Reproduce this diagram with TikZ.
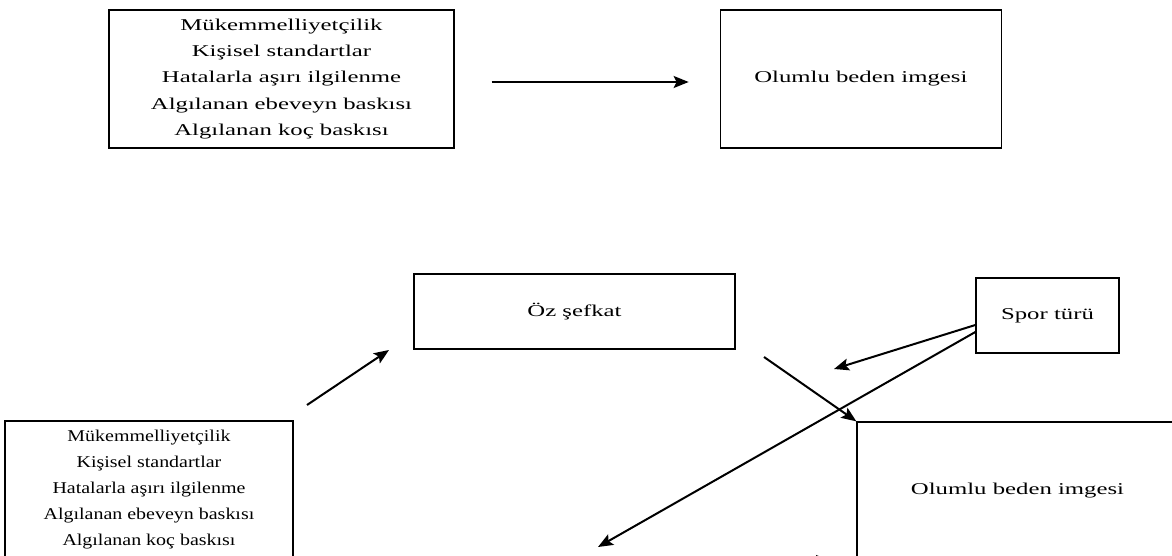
\documentclass[tikz,border=0pt]{standalone}
\usepackage{fontspec}
\setmainfont{Liberation Serif}
\newfontfamily\widefont[FakeStretch=1.5]{Liberation Serif}
\newfontfamily\slimfont[FakeStretch=1.21]{Liberation Serif}
\usetikzlibrary{positioning,arrows.meta}
\tikzset{
  box/.style={draw, line width=1.3pt, inner sep=0pt, align=center,
    font=\widefont\fontsize{16.5}{26.3}\selectfont},
  bigbox/.style={box, minimum height=138pt},
  smallbox/.style={box, minimum height=75pt},
  arr/.style={-{Stealth[length=15pt,width=12pt,inset=3pt]}, line width=2pt}
}

\begin{document}
\begin{tikzpicture}[x=1pt, y=-1pt]
  \path[use as bounding box, clip] (0,0) rectangle (1172,556);

  \node [bigbox, minimum width=345pt] (perfA) at (281.5,79)
    {Mükemmelliyetçilik\\Kişisel standartlar\\Hatalarla aşırı ilgilenme\\Algılanan ebeveyn baskısı\\Algılanan koç baskısı};
  \node [bigbox, minimum width=281pt, right=265pt of perfA] (bodyA) {Olumlu beden imgesi};

  \draw [arr, shorten <=37pt, shorten >=31pt] ([yshift=-3pt]perfA.east) -- ([yshift=-3pt]bodyA.west);

  \node [smallbox, minimum width=321pt] (oz) at (574.5,311.5) {Öz şefkat};
  \node [smallbox, minimum width=143pt] (spor) at (1047.5,315.5) {Spor türü};
  \node [bigbox, minimum width=288pt, font=\slimfont\fontsize{16.5}{26}\selectfont] (perfB) at (149,490)
    {Mükemmelliyetçilik\\Kişisel standartlar\\Hatalarla aşırı ilgilenme\\Algılanan ebeveyn baskısı\\Algılanan koç baskısı};
  \node [bigbox, minimum width=321pt] (bodyB) at (1017.5,491) {Olumlu beden imgesi};

  \coordinate (toOzS) at (307,405);
  \coordinate (toOzE) at (389,350);
  \coordinate (fromOz) at (764,357);
  \coordinate (sporA) at (834,369);
  \coordinate (sporB) at (598,547);
  \coordinate (direct) at (831,561);

  \draw [arr] (toOzS) -- (toOzE);
  \draw [arr] (fromOz) -- (bodyB.north west);
  \draw [arr] ([yshift=-9.5pt]spor.west) -- (sporA);
  \draw [arr] ([yshift=-16.5pt]spor.west) -- (sporB);
  \draw [arr] (perfB.east |- direct) -- (direct);
\end{tikzpicture}
\end{document}
